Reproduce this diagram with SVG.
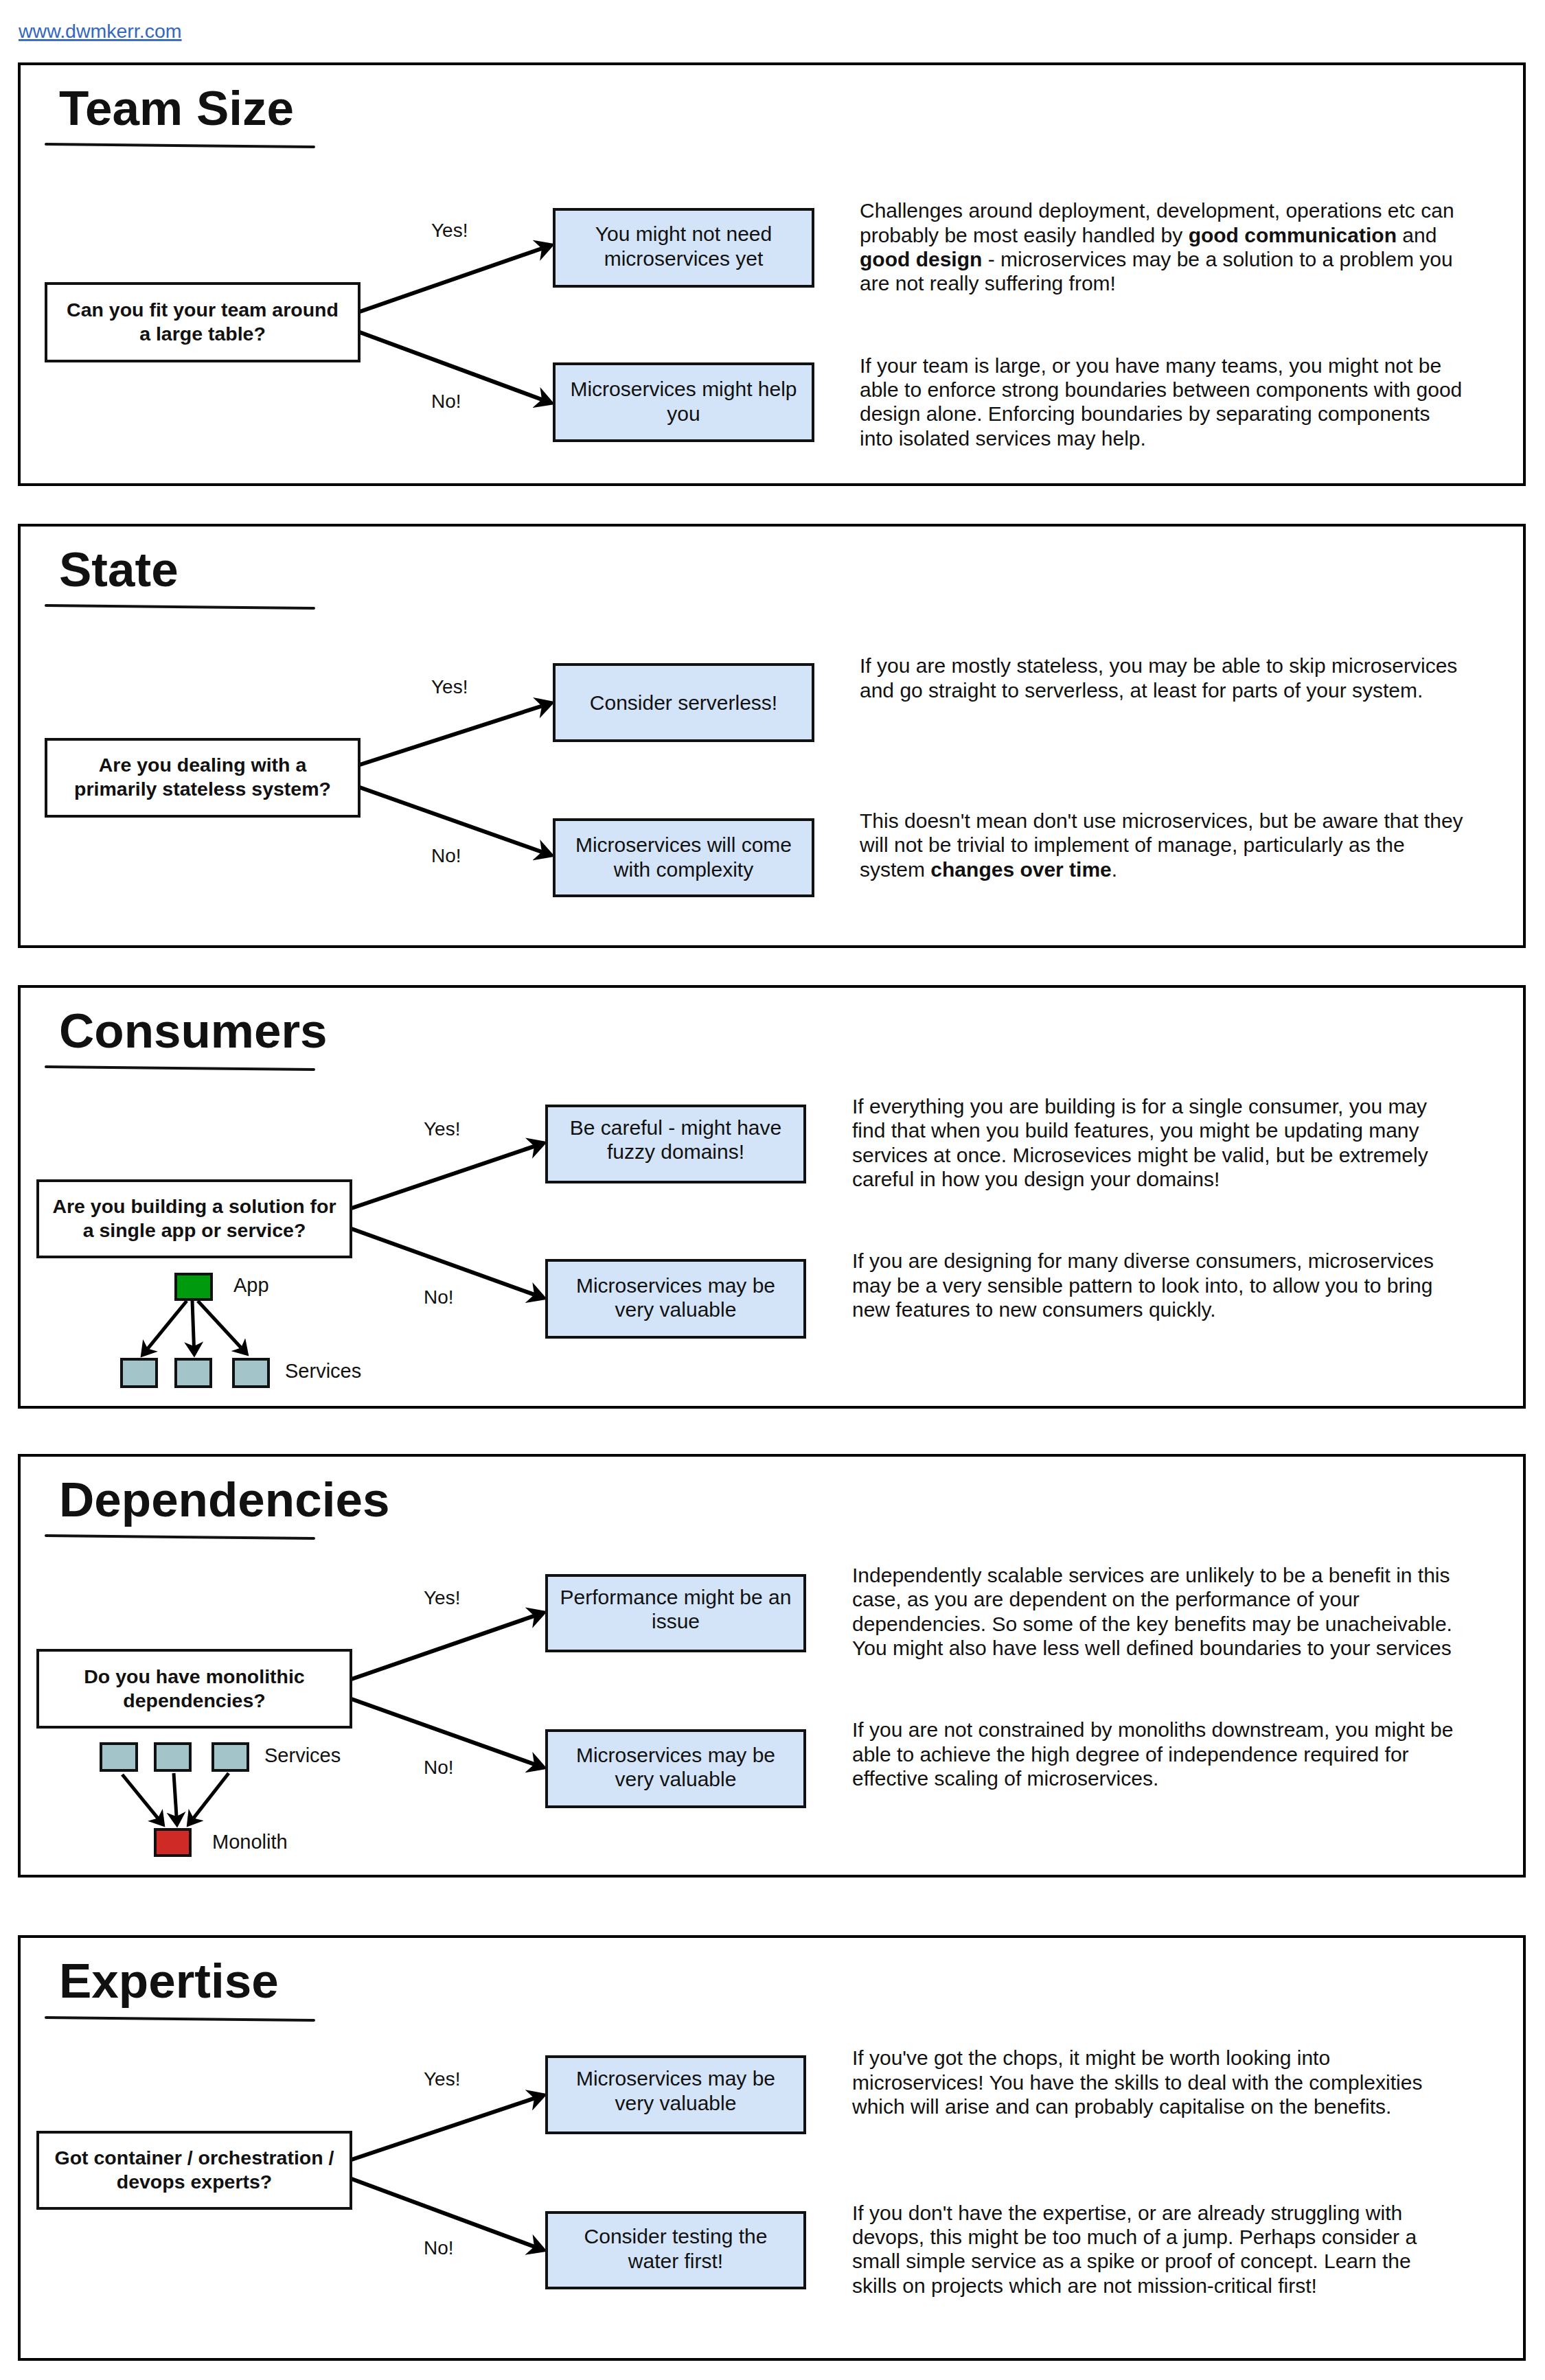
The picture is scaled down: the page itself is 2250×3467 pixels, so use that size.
<svg xmlns="http://www.w3.org/2000/svg" width="2250" height="3467" viewBox="0 0 2250 3467">
<defs>
<style>
.frame{fill:none;stroke:#000;stroke-width:4}
.ul{fill:none;stroke:#111;stroke-width:4;stroke-linecap:round}
.q{fill:#fff;stroke:#111;stroke-width:4}
.a{fill:#d3e4f9;stroke:#111;stroke-width:4}
.svc{fill:#a3c4c9;stroke:#111;stroke-width:4}
.app{fill:#009a0e;stroke:#111;stroke-width:4}
.mono{fill:#cf2a26;stroke:#111;stroke-width:4}
text{font-family:"Liberation Sans",Arial,sans-serif;fill:#111}
.title{font-size:71px;font-weight:bold}
.qt{font-size:28.5px;font-weight:bold;text-anchor:middle}
.bt{font-size:30px;text-anchor:middle}
.body{font-size:30px}
.lbl{font-size:28px}
.mini{font-size:29px}
.b{font-weight:bold}
.link{font-size:28.5px;fill:#3466c4;text-decoration:underline}
.conn{fill:none;stroke:#000;stroke-width:6;marker-end:url(#ah)}
.sconn{fill:none;stroke:#000;stroke-width:5;marker-end:url(#ahs)}
</style>
<marker id="ah" markerUnits="userSpaceOnUse" markerWidth="30" markerHeight="32" viewBox="0 0 28 30" refX="8" refY="15" orient="auto">
<path d="M0,0 L27,15 L0,30 L8,15 Z" fill="#000"/>
</marker>
<marker id="ahs" markerUnits="userSpaceOnUse" markerWidth="24" markerHeight="28" viewBox="0 0 23 27" refX="6" refY="13.5" orient="auto">
<path d="M0,0 L22,13.5 L0,27 L6,13.5 Z" fill="#000"/>
</marker>
</defs>
<rect width="2250" height="3467" fill="#fff"/>

<text id="link" class="link" x="27" y="55">www.dwmkerr.com</text>

<g id="connectors">
<line class="conn" x1="524" y1="454" x2="789" y2="362"/>
<line class="conn" x1="524" y1="484" x2="789" y2="582"/>
<line class="conn" x1="524" y1="1114" x2="789" y2="1028.5"/>
<line class="conn" x1="524" y1="1147" x2="789" y2="1241"/>
<line class="conn" x1="512" y1="1760" x2="778" y2="1669.8"/>
<line class="conn" x1="512" y1="1790" x2="778" y2="1885.9"/>
<line class="conn" x1="512" y1="2446" x2="778" y2="2353.9"/>
<line class="conn" x1="512" y1="2475" x2="778" y2="2570"/>
<line class="conn" x1="512" y1="3146" x2="778" y2="3056.7"/>
<line class="conn" x1="512" y1="3174" x2="778" y2="3272.7"/>
<line class="sconn" x1="272" y1="1895" x2="215.1" y2="1964.6"/>
<line class="sconn" x1="280" y1="1895" x2="282.4" y2="1961"/>
<line class="sconn" x1="288" y1="1895" x2="351.1" y2="1963.3"/>
<line class="sconn" x1="178" y1="2585" x2="229.9" y2="2648.6"/>
<line class="sconn" x1="253" y1="2583" x2="257" y2="2646"/>
<line class="sconn" x1="333" y1="2583" x2="281.9" y2="2648.4"/>
</g>

<!-- Section 1: Team Size -->
<g id="sec-team-size">
<rect class="frame" x="28" y="93" width="2192" height="613"/>
<text class="title" x="86" y="182">Team Size</text>
<path class="ul" d="M67,210 L457,214"/>
<g id="q1"><rect class="q" x="67" y="413" width="456" height="113"/>
<text class="qt" x="295" y="461">Can you fit your team around</text>
<text class="qt" x="295" y="496">a large table?</text></g>
<text class="lbl" x="628" y="345">Yes!</text>
<text class="lbl" x="628" y="594">No!</text>
<g id="a1y"><rect class="a" x="807" y="305" width="377" height="112"/>
<text class="bt" x="995.5" y="351">You might not need</text>
<text class="bt" x="995.5" y="387">microservices yet</text></g>
<g id="a1n"><rect class="a" x="807" y="530" width="377" height="112"/>
<text class="bt" x="995.5" y="577">Microservices might help</text>
<text class="bt" x="995.5" y="613">you</text></g>
<text class="body" x="1252" y="317">Challenges around deployment, development, operations etc can</text>
<text class="body" x="1252" y="353">probably be most easily handled by <tspan class="b">good communication</tspan> and</text>
<text class="body" x="1252" y="388"><tspan class="b">good design</tspan> - microservices may be a solution to a problem you</text>
<text class="body" x="1252" y="423">are not really suffering from!</text>
<text class="body" x="1252" y="543">If your team is large, or you have many teams, you might not be</text>
<text class="body" x="1252" y="578">able to enforce strong boundaries between components with good</text>
<text class="body" x="1252" y="613">design alone. Enforcing boundaries by separating components</text>
<text class="body" x="1252" y="649">into isolated services may help.</text>
</g>

<!-- Section 2: State -->
<g id="sec-state">
<rect class="frame" x="28" y="765" width="2192" height="614"/>
<text class="title" x="86" y="854">State</text>
<path class="ul" d="M67,882 L457,886"/>
<g id="q2"><rect class="q" x="67" y="1077" width="456" height="112"/>
<text class="qt" x="295" y="1124">Are you dealing with a</text>
<text class="qt" x="295" y="1159">primarily stateless system?</text></g>
<text class="lbl" x="628" y="1010">Yes!</text>
<text class="lbl" x="628" y="1256">No!</text>
<g id="a2y"><rect class="a" x="807" y="968" width="377" height="111"/>
<text class="bt" x="995.5" y="1034">Consider serverless!</text></g>
<g id="a2n"><rect class="a" x="807" y="1194" width="377" height="111"/>
<text class="bt" x="995.5" y="1241">Microservices will come</text>
<text class="bt" x="995.5" y="1277">with complexity</text></g>
<text class="body" x="1252" y="980">If you are mostly stateless, you may be able to skip microservices</text>
<text class="body" x="1252" y="1016">and go straight to serverless, at least for parts of your system.</text>
<text class="body" x="1252" y="1206">This doesn't mean don't use microservices, but be aware that they</text>
<text class="body" x="1252" y="1241">will not be trivial to implement of manage, particularly as the</text>
<text class="body" x="1252" y="1277">system <tspan class="b">changes over time</tspan>.</text>
</g>

<!-- Section 3: Consumers -->
<g id="sec-consumers">
<rect class="frame" x="28" y="1437" width="2192" height="613"/>
<text class="title" x="86" y="1526">Consumers</text>
<path class="ul" d="M67,1554 L457,1558"/>
<g id="q3"><rect class="q" x="55" y="1720" width="456" height="111"/>
<text class="qt" x="283" y="1767">Are you building a solution for</text>
<text class="qt" x="283" y="1802">a single app or service?</text></g>
<text class="lbl" x="617" y="1654">Yes!</text>
<text class="lbl" x="617" y="1899">No!</text>
<g id="a3y"><rect class="a" x="796" y="1611" width="376" height="111"/>
<text class="bt" x="984" y="1653">Be careful - might have</text>
<text class="bt" x="984" y="1688">fuzzy domains!</text></g>
<g id="a3n"><rect class="a" x="796" y="1836" width="376" height="112"/>
<text class="bt" x="984" y="1883">Microservices may be</text>
<text class="bt" x="984" y="1918">very valuable</text></g>
<text class="body" x="1241" y="1622">If everything you are building is for a single consumer, you may</text>
<text class="body" x="1241" y="1657">find that when you build features, you might be updating many</text>
<text class="body" x="1241" y="1693">services at once. Microsevices might be valid, but be extremely</text>
<text class="body" x="1241" y="1728">careful in how you design your domains!</text>
<text class="body" x="1241" y="1847">If you are designing for many diverse consumers, microservices</text>
<text class="body" x="1241" y="1883">may be a very sensible pattern to look into, to allow you to bring</text>
<text class="body" x="1241" y="1918">new features to new consumers quickly.</text>
<g id="mini-app"><rect class="app" x="256" y="1856" width="52" height="37"/>
<text class="mini" x="340" y="1882">App</text></g>
<g id="mini-svc3">
<rect class="svc" x="177" y="1980" width="51" height="40"/>
<rect class="svc" x="256" y="1980" width="51" height="40"/>
<rect class="svc" x="340" y="1980" width="51" height="40"/>
<text class="mini" x="415" y="2007">Services</text></g>
</g>

<!-- Section 4: Dependencies -->
<g id="sec-dependencies">
<rect class="frame" x="28" y="2120" width="2192" height="613"/>
<text class="title" x="86" y="2209">Dependencies</text>
<path class="ul" d="M67,2237 L457,2241"/>
<g id="q4"><rect class="q" x="55" y="2404" width="456" height="112"/>
<text class="qt" x="283" y="2452">Do you have monolithic</text>
<text class="qt" x="283" y="2487">dependencies?</text></g>
<text class="lbl" x="617" y="2337">Yes!</text>
<text class="lbl" x="617" y="2584">No!</text>
<g id="a4y"><rect class="a" x="796" y="2295" width="376" height="110"/>
<text class="bt" x="984" y="2337">Performance might be an</text>
<text class="bt" x="984" y="2372">issue</text></g>
<g id="a4n"><rect class="a" x="796" y="2521" width="376" height="111"/>
<text class="bt" x="984" y="2567">Microservices may be</text>
<text class="bt" x="984" y="2602">very valuable</text></g>
<text class="body" x="1241" y="2305">Independently scalable services are unlikely to be a benefit in this</text>
<text class="body" x="1241" y="2340">case, as you are dependent on the performance of your</text>
<text class="body" x="1241" y="2376">dependencies. So some of the key benefits may be unacheivable.</text>
<text class="body" x="1241" y="2411">You might also have less well defined boundaries to your services</text>
<text class="body" x="1241" y="2530">If you are not constrained by monoliths downstream, you might be</text>
<text class="body" x="1241" y="2566">able to achieve the high degree of independence required for</text>
<text class="body" x="1241" y="2601">effective scaling of microservices.</text>
<g id="mini-svc4">
<rect class="svc" x="147" y="2540" width="52" height="39"/>
<rect class="svc" x="226" y="2540" width="51" height="39"/>
<rect class="svc" x="310" y="2540" width="51" height="39"/>
<text class="mini" x="385" y="2567">Services</text></g>
<g id="mini-mono"><rect class="mono" x="226" y="2665" width="51" height="38"/>
<text class="mini" x="309" y="2693">Monolith</text></g>
</g>

<!-- Section 5: Expertise -->
<g id="sec-expertise">
<rect class="frame" x="28" y="2821" width="2192" height="616"/>
<text class="title" x="86" y="2910">Expertise</text>
<path class="ul" d="M67,2939 L457,2943"/>
<g id="q5"><rect class="q" x="55" y="3106" width="456" height="111"/>
<text class="qt" x="283" y="3153">Got container / orchestration /</text>
<text class="qt" x="283" y="3188">devops experts?</text></g>
<text class="lbl" x="617" y="3038">Yes!</text>
<text class="lbl" x="617" y="3284">No!</text>
<g id="a5y"><rect class="a" x="796" y="2996" width="376" height="111"/>
<text class="bt" x="984" y="3038">Microservices may be</text>
<text class="bt" x="984" y="3074">very valuable</text></g>
<g id="a5n"><rect class="a" x="796" y="3223" width="376" height="110"/>
<text class="bt" x="984" y="3268">Consider testing the</text>
<text class="bt" x="984" y="3304">water first!</text></g>
<text class="body" x="1241" y="3008">If you've got the chops, it might be worth looking into</text>
<text class="body" x="1241" y="3044">microservices! You have the skills to deal with the complexities</text>
<text class="body" x="1241" y="3079">which will arise and can probably capitalise on the benefits.</text>
<text class="body" x="1241" y="3234">If you don't have the expertise, or are already struggling with</text>
<text class="body" x="1241" y="3269">devops, this might be too much of a jump. Perhaps consider a</text>
<text class="body" x="1241" y="3304">small simple service as a spike or proof of concept. Learn the</text>
<text class="body" x="1241" y="3340">skills on projects which are not mission-critical first!</text>
</g>
</svg>
